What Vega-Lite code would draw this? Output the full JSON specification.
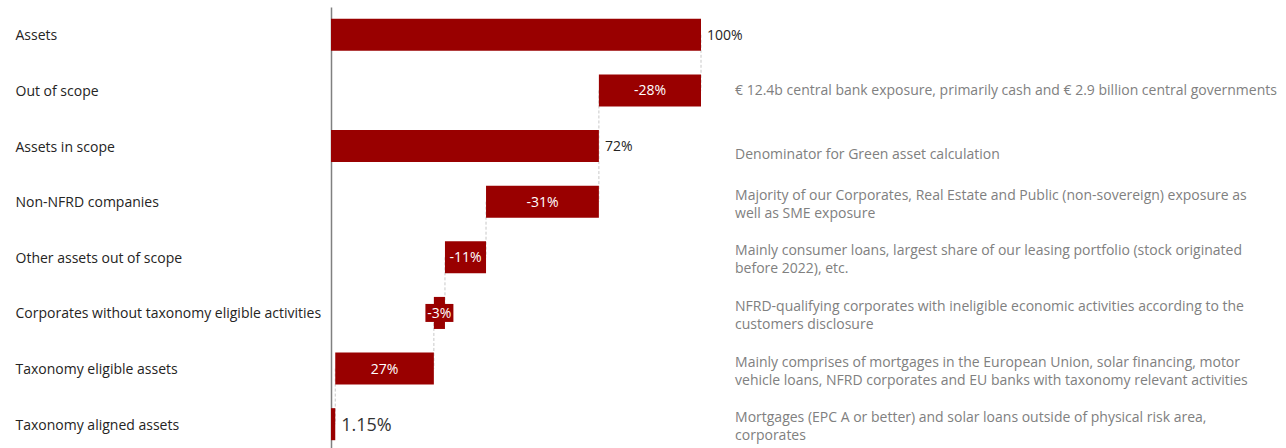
{
  "$schema": "https://vega.github.io/schema/vega-lite/v6.json",
  "autosize": "none",
  "width": 370,
  "height": 445,
  "padding": {"left": 331, "top": 7, "right": 585, "bottom": 0},
  "config": {
    "view": {"stroke": null},
    "font": "Open Sans",
    "text": {"font": "Open Sans"}
  },
  "datasets": {
    "steps": [
      {"cat": "Assets", "start": 0, "end": 100, "label": "100%", "note": ""},
      {"cat": "Out of scope", "start": 72.4, "end": 100, "label": "-28%", "note": "€ 12.4b central bank exposure, primarily cash and € 2.9 billion central governments"},
      {"cat": "Assets in scope", "start": 0, "end": 72.4, "label": "72%", "note": "Denominator for Green asset calculation"},
      {"cat": "Non-NFRD companies", "start": 41.9, "end": 72.4, "label": "-31%", "note": "Majority of our Corporates, Real Estate and Public (non-sovereign) exposure as\nwell as SME exposure"},
      {"cat": "Other assets out of scope", "start": 30.8, "end": 41.9, "label": "-11%", "note": "Mainly consumer loans, largest share of our leasing portfolio (stock originated\nbefore 2022), etc."},
      {"cat": "Corporates without taxonomy eligible activities", "start": 27.8, "end": 30.8, "label": "-3%", "note": "NFRD-qualifying corporates with ineligible economic activities according to the\ncustomers disclosure"},
      {"cat": "Taxonomy eligible assets", "start": 1.15, "end": 27.8, "label": "27%", "note": "Mainly comprises of mortgages in the European Union, solar financing, motor\nvehicle loans, NFRD corporates and EU banks with taxonomy relevant activities"},
      {"cat": "Taxonomy aligned assets", "start": 0, "end": 1.15, "label": "1.15%", "note": "Mortgages (EPC A or better) and solar loans outside of physical risk area,\ncorporates"}
    ],
    "connectors": [
      {"cat": "Assets", "next": "Out of scope", "x": 100},
      {"cat": "Out of scope", "next": "Assets in scope", "x": 72.4},
      {"cat": "Assets in scope", "next": "Non-NFRD companies", "x": 72.4},
      {"cat": "Non-NFRD companies", "next": "Other assets out of scope", "x": 41.9},
      {"cat": "Other assets out of scope", "next": "Corporates without taxonomy eligible activities", "x": 30.8},
      {"cat": "Corporates without taxonomy eligible activities", "next": "Taxonomy eligible assets", "x": 27.8},
      {"cat": "Taxonomy eligible assets", "next": "Taxonomy aligned assets", "x": 1.15}
    ]
  },
  "encoding": {
    "y": {
      "field": "cat",
      "type": "nominal",
      "scale": {
        "domain": ["Assets", "Out of scope", "Assets in scope", "Non-NFRD companies", "Other assets out of scope", "Corporates without taxonomy eligible activities", "Taxonomy eligible assets", "Taxonomy aligned assets"],
        "paddingInner": 0.424,
        "paddingOuter": 0.212
      },
      "axis": {
        "title": null,
        "orient": "left",
        "ticks": false,
        "domain": true,
        "domainColor": "#808080",
        "domainWidth": 1.5,
        "labelAlign": "left",
        "labelPadding": 316,
        "labelLimit": 330,
        "labelFontSize": 14,
        "labelOffset": 1.5,
        "labelColor": "#252423",
        "labelFont": "Open Sans"
      }
    }
  },
  "layer": [
    {
      "data": {"name": "connectors"},
      "mark": {"type": "rule", "color": "#c8c8c8", "strokeDash": [3, 2], "strokeWidth": 1},
      "encoding": {
        "x": {"field": "x", "type": "quantitative", "scale": {"domain": [0, 100], "nice": false, "zero": true}, "axis": null},
        "y2": {"field": "next"}
      }
    },
    {
      "data": {"name": "steps"},
      "mark": {"type": "bar", "color": "#990000"},
      "encoding": {
        "x": {"field": "start", "type": "quantitative", "scale": {"domain": [0, 100], "nice": false}, "axis": null},
        "x2": {"field": "end"}
      }
    },
    {
      "data": {"name": "steps"},
      "transform": [
        {"filter": "datum.cat === 'Corporates without taxonomy eligible activities'"},
        {"calculate": "(datum.start + datum.end) / 2", "as": "mid"}
      ],
      "mark": {"type": "rule", "color": "#990000", "strokeWidth": 18, "xOffset": -14, "x2Offset": 14},
      "encoding": {
        "x": {"field": "mid", "type": "quantitative", "axis": null},
        "x2": {"field": "mid"}
      }
    },
    {
      "data": {"name": "steps"},
      "transform": [
        {"filter": "datum.cat !== 'Assets' && datum.cat !== 'Assets in scope' && datum.cat !== 'Taxonomy aligned assets'"},
        {"calculate": "(datum.start + datum.end) / 2", "as": "mid"}
      ],
      "mark": {"type": "text", "color": "#ffffff", "fontSize": 14, "align": "center", "baseline": "middle", "dy": 1},
      "encoding": {
        "x": {"field": "mid", "type": "quantitative", "axis": null},
        "text": {"field": "label"}
      }
    },
    {
      "data": {"name": "steps"},
      "transform": [{"filter": "datum.cat === 'Assets' || datum.cat === 'Assets in scope'"}],
      "mark": {"type": "text", "color": "#252423", "fontSize": 14, "align": "left", "baseline": "middle", "dx": 6, "dy": 1},
      "encoding": {
        "x": {"field": "end", "type": "quantitative", "axis": null},
        "text": {"field": "label"}
      }
    },
    {
      "data": {"name": "steps"},
      "transform": [{"filter": "datum.cat === 'Taxonomy aligned assets'"}],
      "mark": {"type": "text", "color": "#333333", "fontSize": 18, "align": "left", "baseline": "middle", "dx": 6, "dy": 1.5},
      "encoding": {
        "x": {"field": "end", "type": "quantitative", "axis": null},
        "text": {"field": "label"}
      }
    },
    {
      "data": {"name": "steps"},
      "transform": [{"filter": "test(/\\n/, datum.note)"}],
      "mark": {"type": "text", "color": "#808080", "fontSize": 14, "align": "left", "baseline": "middle", "dy": -6, "lineBreak": "\n", "lineHeight": 18},
      "encoding": {
        "x": {"datum": 109.2},
        "text": {"field": "note"}
      }
    },
    {
      "data": {"name": "steps"},
      "transform": [{"filter": "datum.cat === 'Out of scope'"}],
      "mark": {"type": "text", "color": "#808080", "fontSize": 14, "align": "left", "baseline": "middle", "dy": 1},
      "encoding": {
        "x": {"datum": 109.2},
        "text": {"field": "note"}
      }
    },
    {
      "data": {"name": "steps"},
      "transform": [{"filter": "datum.cat === 'Assets in scope'"}],
      "mark": {"type": "text", "color": "#808080", "fontSize": 14, "align": "left", "baseline": "middle", "dy": 9},
      "encoding": {
        "x": {"datum": 109.2},
        "text": {"field": "note"}
      }
    }
  ]
}
